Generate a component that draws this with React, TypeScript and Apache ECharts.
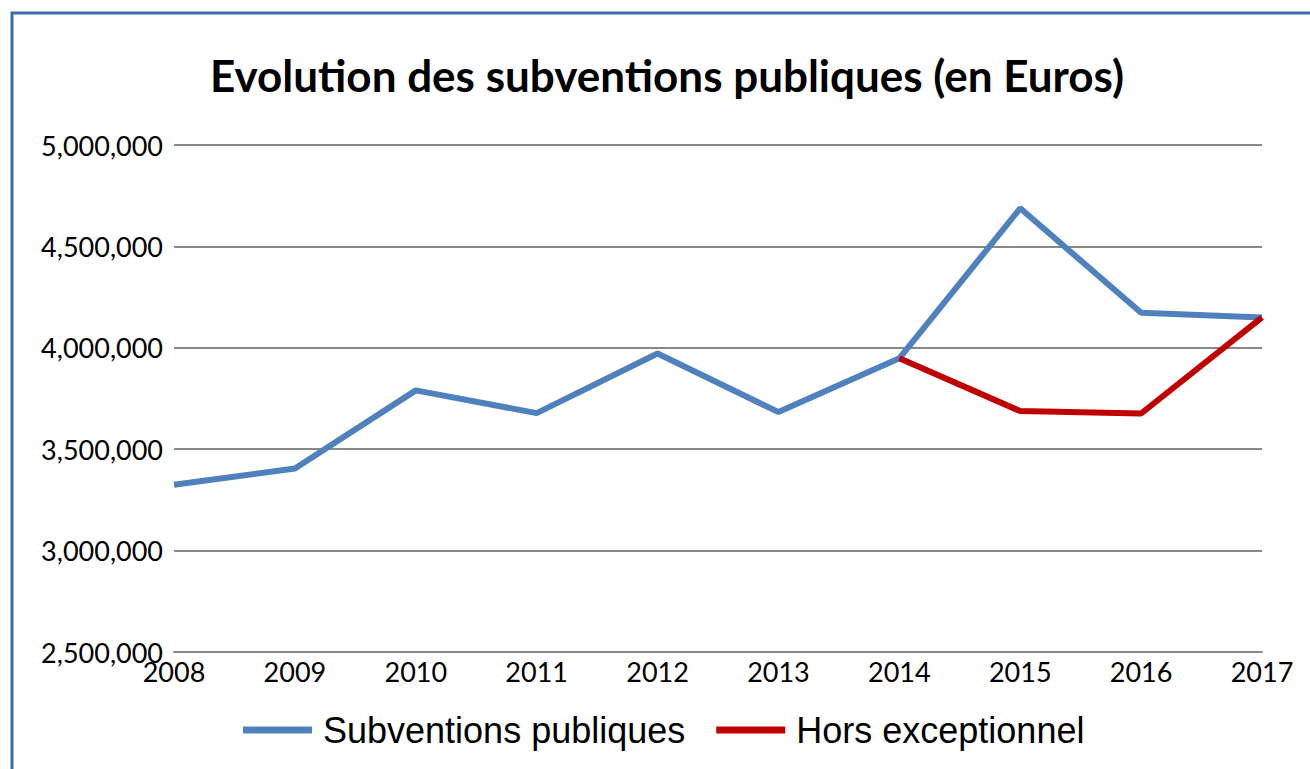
import React, { useEffect, useRef } from "react";
import * as echarts from "echarts";

const titleText = "Evolution des subventions publiques (en Euros)";
const years = ["2008", "2009", "2010", "2011", "2012", "2013", "2014", "2015", "2016", "2017"];
const subventions = [3325000, 3405000, 3790000, 3678000, 3972000, 3683000, 3948000, 4688000, 4173000, 4150000];
const horsExceptionnel = [null, null, null, null, null, null, 3948000, 3688000, 3676000, 4150000];
const yMin = 2500000;
const yMax = 5000000;
const yStep = 500000;

const fmt = (v: number) => v.toString().replace(/\B(?=(\d{3})+(?!\d))/g, ",");

export default function App() {
  const ref = useRef<HTMLDivElement>(null);
  useEffect(() => {
    if (!ref.current) return;
    const chart = echarts.init(ref.current, null, { renderer: "svg" });
    chart.setOption({
      animation: false,
      backgroundColor: "#ffffff",
      graphic: [
        {
          type: "rect",
          z: -10,
          shape: { x: 12, y: 13, width: 1400, height: 900 },
          style: { fill: "none", stroke: "#3d6cae", lineWidth: 3 },
        },
        {
          type: "text",
          x: 667,
          y: 75,
          style: {
            text: titleText,
            textAlign: "center",
            textVerticalAlign: "middle",
            fontFamily: "Lato",
            fontWeight: "bold",
            fontSize: 44,
            fill: "#000",
          },
        },
      ],
      legend: {
        left: 243,
        top: 710,
        padding: 0,
        icon: "rect",
        itemWidth: 69,
        itemHeight: 7,
        itemGap: 31,
        textStyle: { fontFamily: "Liberation Sans", fontSize: 36, color: "#000", padding: [0, 0, 0, 6], lineHeight: 40 },
        data: ["Subventions publiques", "Hors exceptionnel"],
      },
      grid: { left: 174, right: 48, top: 145, bottom: 117, containLabel: false },
      xAxis: {
        type: "category",
        data: years,
        boundaryGap: false,
        axisTick: { show: false },
        axisLine: { show: true, lineStyle: { color: "#888888", width: 2 } },
        axisLabel: { margin: 6, fontFamily: "Lato", fontSize: 27, color: "#000" },
      },
      yAxis: {
        type: "value",
        min: yMin,
        max: yMax,
        interval: yStep,
        axisLine: { show: false },
        axisTick: { show: false },
        splitLine: { lineStyle: { color: "#888888", width: 2 } },
        axisLabel: { margin: 11, fontFamily: "Lato", fontSize: 27, color: "#000", formatter: (v: number) => fmt(v) },
      },
      series: [
        {
          name: "Subventions publiques",
          type: "line",
          data: subventions,
          showSymbol: false,
          symbol: "none",
          itemStyle: { color: "#4f81bd" },
          lineStyle: { color: "#4f81bd", width: 6 },
        },
        {
          name: "Hors exceptionnel",
          type: "line",
          data: horsExceptionnel,
          showSymbol: false,
          symbol: "none",
          itemStyle: { color: "#c00000" },
          lineStyle: { color: "#c00000", width: 6 },
        },
      ],
    });
    return () => chart.dispose();
  }, []);
  return (
    <div
      ref={ref}
      style={{ position: "absolute", left: 0, top: 0, width: 1310, height: 769 }}
    />
  );
}
